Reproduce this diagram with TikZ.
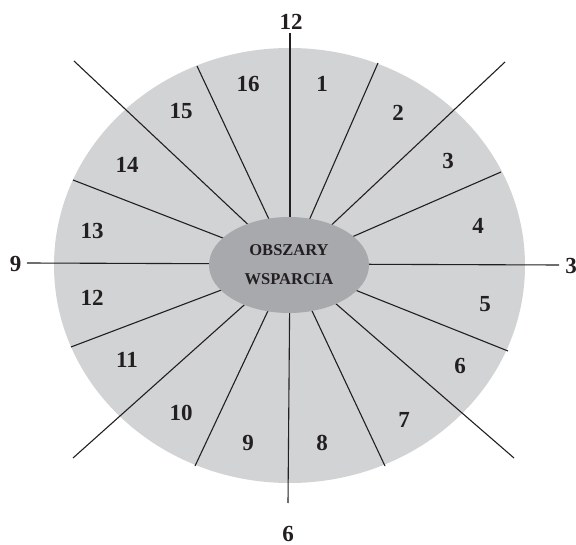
\documentclass[tikz,border=0pt]{standalone}
\usepackage{fontspec}
\setmainfont{Liberation Serif}
\usetikzlibrary{shapes.geometric}
\definecolor{outergray}{HTML}{D1D3D4}
\definecolor{innergray}{HTML}{A7A9AC}
\definecolor{ink}{HTML}{231F20}
\begin{document}
\begin{tikzpicture}[x=1pt,y=-1pt,
  num/.style={font=\bfseries\fontsize{23}{23}\selectfont, inner sep=0pt, text=ink},
  spoke/.style={draw=ink, line width=1.1pt}]
\useasboundingbox (0,0) rectangle (576,545);
% outer disc
\node[ellipse, fill=outergray, minimum width=471pt, minimum height=435pt, inner sep=0pt] (outer) at (289.5,265.5) {};
% spoke ends
\coordinate (c) at (290,264);
\coordinate (e12) at (290,33);
\coordinate (e3) at (559,265);
\coordinate (e6) at (288,503);
\coordinate (e9) at (27,263);
\coordinate (ene) at (505,62);
\coordinate (ese) at (514,458);
\coordinate (esw) at (73,458);
\coordinate (enw) at (74,61);
\coordinate (a1) at (378,63);
\coordinate (a2) at (501,172);
\coordinate (a3) at (508,351);
\coordinate (a4) at (385,466);
\coordinate (a5) at (195,466);
\coordinate (a6) at (71,347);
\coordinate (a7) at (73,180);
\coordinate (a8) at (197,66);
\foreach \p in {e12,e3,e6,e9,ene,ese,esw,enw,a1,a2,a3,a4,a5,a6,a7,a8}
  \draw[spoke] (c) -- (\p);
% hub
\node[ellipse, fill=innergray, minimum width=160pt, minimum height=96pt, inner sep=0pt,
  align=center, text=ink, font=\bfseries\fontsize{16.5}{29}\selectfont] (hub) at (289,265) {OBSZARY\\WSPARCIA};
% clock labels
\node[num] (m12) at (291,22) {12};
\node[num] (m3) at (571,266) {3};
\node[num] (m6) at (288,534) {6};
\node[num] (m9) at (15.5,264) {9};
% sector labels
\node[num] (l1) at (322,84) {1};
\node[num] (l2) at (398,113) {2};
\node[num] (l3) at (448,161) {3};
\node[num] (l4) at (478,226) {4};
\node[num] (l5) at (485,304) {5};
\node[num] (l6) at (460,366) {6};
\node[num] (l7) at (404,420) {7};
\node[num] (l8) at (322,443) {8};
\node[num] (l9) at (248,443) {9};
\node[num] (l10) at (181,413) {10};
\node[num] (l11) at (127,360) {11};
\node[num] (l12) at (92,298) {12};
\node[num] (l13) at (92,231) {13};
\node[num] (l14) at (127,165) {14};
\node[num] (l15) at (181,111) {15};
\node[num] (l16) at (248,84) {16};
\end{tikzpicture}
\end{document}
